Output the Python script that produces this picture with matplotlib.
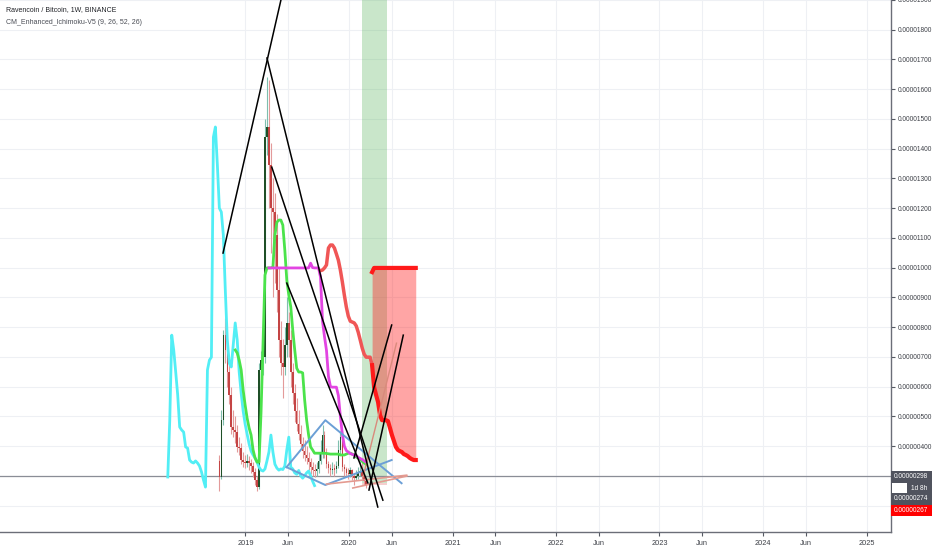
import numpy as np
import pandas as pd
import matplotlib
matplotlib.use('Agg')
import matplotlib.pyplot as plt
from matplotlib.patches import Rectangle
from matplotlib.ticker import FixedLocator, FuncFormatter

plt.rcParams['font.family'] = ['Liberation Sans', 'DejaVu Sans']

# semanas (velas 1W), precios en satoshis (1e-8 BTC)
primera_semana = '2018-10-01'

opens = [350, 296, 487, 773, 723, 649, 572, 464, 454, 447,
         397, 393, 353, 346, 343, 350, 343, 333, 313, 286,
         262, 656, 689, 699, 1439, 1473, 1345, 1200, 1187, 1110,
         925, 757, 679, 666, 740, 814, 757, 649, 578, 518,
         474, 440, 407, 383, 370, 360, 346, 329, 319, 316,
         323, 350, 380, 437, 380, 339, 326, 319, 325, 323,
         333, 387, 430, 329, 323, 310, 305, 318, 300, 292,
         300, 310, 316, 300, 282]
closes = [296, 487, 773, 723, 649, 572, 464, 454, 447, 397,
          393, 353, 346, 343, 350, 343, 333, 313, 286, 262,
          656, 689, 699, 1439, 1473, 1345, 1200, 1187, 1110, 925,
          757, 679, 666, 740, 814, 757, 649, 578, 518, 474,
          440, 407, 383, 370, 360, 346, 329, 319, 316, 323,
          350, 380, 437, 380, 339, 326, 319, 323, 321, 333,
          387, 430, 329, 323, 310, 305, 318, 300, 292, 300,
          310, 316, 300, 282, 267]
highs = [370, 520, 790, 830, 760, 680, 600, 520, 500, 470,
         430, 410, 380, 370, 372, 365, 355, 345, 325, 300,
         680, 720, 760, 1500, 1640, 1630, 1420, 1300, 1250, 1180,
         1000, 820, 760, 800, 900, 850, 790, 680, 610, 560,
         520, 470, 430, 420, 400, 380, 360, 345, 340, 345,
         380, 420, 470, 450, 395, 350, 340, 345, 340, 350,
         420, 450, 440, 340, 330, 325, 330, 322, 310, 320,
         330, 350, 355, 310, 290]
lows = [250, 290, 470, 680, 600, 540, 440, 430, 410, 380,
        370, 340, 330, 325, 330, 320, 310, 295, 270, 250,
        255, 600, 640, 680, 1380, 1200, 1050, 900, 950, 850,
        700, 640, 560, 640, 700, 700, 600, 540, 480, 450,
        420, 390, 360, 350, 340, 320, 305, 300, 295, 300,
        310, 340, 360, 360, 325, 310, 300, 305, 300, 310,
        325, 370, 315, 300, 295, 290, 295, 285, 270, 285,
        290, 300, 290, 270, 260]

# lineas Ichimoku (indice de semana inicial)
tenkan_ini = 8
tenkan = [723, 713, 689, 656, 588, 538, 494, 461, 437, 387,
          360, 346, 346, 511, 740, 975, 999, 999, 999, 1002,
          1110, 1153, 1160, 1160, 1143, 1059, 958, 908, 868, 790,
          723, 662, 649, 649, 646, 555, 487, 437, 397, 387,
          376, 376, 376, 376, 376, 376, 375, 374, 373, 373,
          373, 373, 373, 370, 370, 370, 373, 376, 376, 373,
          370, 363, 360, 356, 349, 343, 339]
kijun_ini = 25
kijun = [999] * 21 + [1015, 1000, 999, 999, 999,
                      968, 820, 768, 722, 634, 600, 598, 598, 598, 570,
                      500, 440, 400, 385, 380, 375, 372, 370, 368, 362,
                      358, 355, 350, 346]
senkou_a_ini = 51
senkou_a = [990, 992, 999, 1009, 1066, 1076, 1076, 1066, 1046, 1025,
            992, 952, 908, 868, 837, 820, 817, 814, 804, 783,
            757, 730, 709, 699, 699, 699, 672, 598, 572, 548,
            504, 487, 487, 487, 484, 461, 437, 417, 397, 387,
            383, 380, 373, 370, 366, 360, 356, 353, 353]
senkou_b_ini = 77
senkou_b = [985] + [999] * 22
chikou_desfase = 26

# dibujos (fecha, precio)
lineas_negras = [
    [('2018-10-14', 1049), ('2019-05-20', 1957)],
    [('2019-03-18', 1705), ('2020-04-12', 195)],
    [('2019-04-04', 1338), ('2020-04-30', 218)],
    [('2019-05-27', 948), ('2020-03-08', 276)],
    [('2020-01-19', 360), ('2020-05-31', 807)],
    [('2020-03-12', 252), ('2020-07-11', 773)],
]
linea_rosa = [('2020-02-19', 292), ('2020-06-17', 746)]
triangulo = [
    [('2019-05-26', 329), ('2019-10-10', 487), ('2020-07-05', 275)],
    [('2019-05-26', 329), ('2019-10-10', 269), ('2020-05-31', 353)],
]
lineas_salmon = [
    [('2019-10-14', 272), ('2020-07-23', 302)],
    [('2020-01-15', 259), ('2020-07-23', 299)],
]
zona_verde = ('2020-02-16', '2020-05-14', 276, 2100)
nivel_horizontal = 298

y_ticks = list(range(200, 2000, 100))
x_ticks = ['2019-01-01', '2019-06-01', '2020-01-01', '2020-06-01', '2021-01-01',
           '2021-06-01', '2022-01-01', '2022-06-01', '2023-01-01', '2023-06-01',
           '2024-01-01', '2024-06-01', '2025-01-01']
x_labels = ['2019', 'Jun', '2020', 'Jun', '2021', 'Jun', '2022', 'Jun',
            '2023', 'Jun', '2024', 'Jun', '2025']

S = 1e-8
semanas = pd.date_range(primera_semana, periods=100, freq='7D')
n = len(closes)
o = np.array(opens) * S
c = np.array(closes) * S
h = np.array(highs) * S
l = np.array(lows) * S
fechas = semanas[:n]


def pts(lista):
    return [pd.Timestamp(d) for d, _ in lista], [v * S for _, v in lista]


fig = plt.figure(figsize=(9.32, 5.5), dpi=100)
ax = fig.add_axes([0, 18 / 550, 891 / 932, 532 / 550])

# rejilla
for yv in y_ticks:
    ax.axhline(yv * S, color='#eef0f4', lw=0.8, zorder=0)
for xv in x_ticks:
    ax.axvline(pd.Timestamp(xv), color='#eef0f4', lw=0.8, zorder=0)

# zona verde
x0, x1, y0, y1 = zona_verde
ax.fill_between([pd.Timestamp(x0), pd.Timestamp(x1)], y0 * S, y1 * S,
                color='#4caf50', alpha=0.3, lw=0, zorder=1)
ax.fill_between([pd.Timestamp(x0), pd.Timestamp(x1)], 270 * S, y0 * S,
                color='#e57373', alpha=0.35, lw=0, zorder=1)

# nube
idx_b = semanas[senkou_b_ini:senkou_b_ini + len(senkou_b)]
a_nube = np.array(senkou_a[senkou_b_ini - senkou_a_ini:]) * S
ax.fill_between(idx_b, a_nube, np.array(senkou_b) * S, color='#ff1f1f', alpha=0.4,
                lw=0, zorder=1.5)

ax.axhline(nivel_horizontal * S, color='#8a8d96', lw=0.9, zorder=2)

# velas
sube = c >= o
wick_col = np.where(sube, '#7fbfae', '#e39a9a')
body_col = np.where(sube, '#1f4f27', '#c44444')
ax.vlines(fechas, l, h, colors=wick_col, lw=0.8, zorder=3)
alto = np.where(np.abs(c - o) < 2 * S, 2 * S, c - o)
ax.bar(fechas, alto, bottom=o, width=5.5, color=body_col, lw=0, zorder=3.5)

# chikou
ax.plot(fechas - pd.Timedelta(weeks=chikou_desfase), c, color='#52eef5', lw=2, zorder=4)
# tenkan / kijun
ax.plot(semanas[tenkan_ini:tenkan_ini + len(tenkan)], np.array(tenkan) * S,
        color='#4be34b', lw=2, zorder=4)
ax.plot(semanas[kijun_ini:kijun_ini + len(kijun)], np.array(kijun) * S,
        color='#e245e2', lw=2, zorder=4)
# senkou
corte = senkou_b_ini - senkou_a_ini
idx_a = semanas[senkou_a_ini:senkou_a_ini + len(senkou_a)]
sa = np.array(senkou_a) * S
ax.plot(idx_a[:corte + 1], sa[:corte + 1], color='#f05656', lw=2.5, zorder=4)
ax.plot(idx_a[corte:], sa[corte:], color='#ff1a1a', lw=3, zorder=4.2)
ax.plot(idx_b, np.array(senkou_b) * S, color='#ff1a1a', lw=3, zorder=4.2)

# dibujos
for tri in triangulo:
    xs, ys = pts(tri)
    ax.plot(xs, ys, color='#6b9fd6', lw=1.4, zorder=5)
for ln in lineas_salmon:
    xs, ys = pts(ln)
    ax.plot(xs, ys, color='#e49a90', lw=1.2, zorder=5)
xs, ys = pts(linea_rosa)
ax.plot(xs, ys, color='#d98a7c', lw=1.0, zorder=5)
for ln in lineas_negras:
    xs, ys = pts(ln)
    ax.plot(xs, ys, color='black', lw=1.1, zorder=6)

# ejes
ax.set_xlim(pd.Timestamp('2016-08-18'), pd.Timestamp('2025-03-28'))
ax.set_ylim(111 * S, 1900 * S)
ax.yaxis.tick_right()
ax.yaxis.set_major_locator(FixedLocator([v * S for v in y_ticks]))
ax.yaxis.set_major_formatter(FuncFormatter(
    lambda v, p: '' if v < 350 * S else f'{v:.8f}'))
ax.xaxis.set_major_locator(FixedLocator([matplotlib.dates.date2num(pd.Timestamp(d)) for d in x_ticks]))
ax.set_xticklabels(x_labels)
ax.tick_params(axis='y', length=3, width=0.8, pad=2, labelsize=4.7,
               colors='#555a63', labelcolor='#3c3f46')
ax.tick_params(axis='x', length=3, width=0.8, pad=3, labelsize=5.3,
               colors='#555a63', labelcolor='#3c3f46')
for side in ['top', 'left']:
    ax.spines[side].set_visible(False)
for side in ['right', 'bottom']:
    ax.spines[side].set_color('#6b6e78')
    ax.spines[side].set_linewidth(1.0)


# etiquetas de precio a la derecha
def caja(y_top, alto_px, color, texto, x_left=891, x_right=932, tc='white'):
    fig.add_artist(Rectangle((x_left / 932, 1 - (y_top + alto_px) / 550),
                             (x_right - x_left) / 932, alto_px / 550,
                             transform=fig.transFigure, color=color, lw=0))
    if texto:
        fig.text((x_left + 3) / 932, 1 - (y_top + alto_px / 2) / 550, texto,
                 color=tc, fontsize=4.7, va='center', ha='left')


caja(470.5, 11.5, '#50535e', '0.00000298')
caja(482, 11.5, '#50535e', '')
caja(483, 9.5, 'white', '', x_left=892, x_right=907)
fig.text(911 / 932, 1 - 488 / 550, '1d 8h', color='white', fontsize=4.7, va='center')
caja(493.5, 11, '#50535e', '0.00000274')
caja(504.5, 11, '#ff0000', '0.00000267')

# titulo
fig.text(6 / 932, 1 - 10 / 550, 'Ravencoin / Bitcoin, 1W, BINANCE', fontsize=5.0,
         color='#1f2126', va='center')
fig.text(6 / 932, 1 - 22 / 550, 'CM_Enhanced_Ichimoku-V5 (9, 26, 52, 26)', fontsize=5.0,
         color='#4a4d55', va='center')

fig.savefig('out.png', dpi=100)
